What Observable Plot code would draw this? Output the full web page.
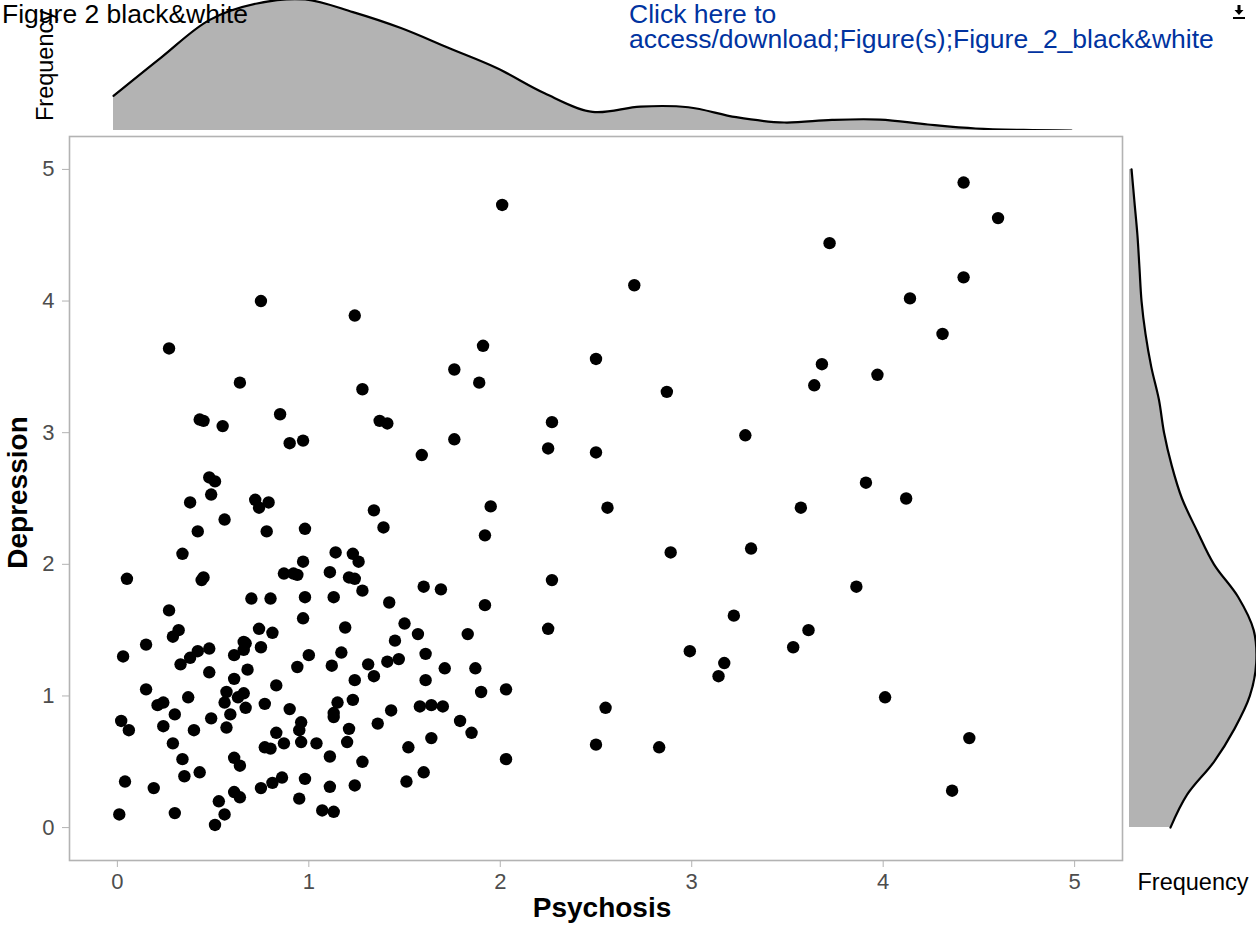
<!DOCTYPE html>
<html><head><meta charset="utf-8">
<script src="https://cdn.jsdelivr.net/npm/d3@7"></script>
<script src="https://cdn.jsdelivr.net/npm/@observablehq/plot@0.6"></script>
<style>
html,body{margin:0;padding:0;background:#fff;}
#wrap{position:relative;width:1256px;height:932px;overflow:hidden;background:#fff;font-family:"Liberation Sans",Arial,Helvetica,sans-serif;}
.layer{position:absolute;left:0;top:0;}
.title{position:absolute;left:2px;top:0px;font-size:26.5px;line-height:28px;color:#000;white-space:nowrap;}
.link{position:absolute;left:629px;top:2px;font-size:26.5px;line-height:25px;color:#0033a0;white-space:nowrap;}
.icon{position:absolute;left:1232px;top:4px;width:14px;height:16px;}
</style></head><body>
<div id="wrap">
  <div class="layer" id="main"></div>
  <div class="layer" id="top"></div>
  <div class="layer" id="right"></div>
  <div class="title">Figure 2 black&amp;white</div>
  <div class="link">Click here to<br>access/download;Figure(s);Figure_2_black&amp;white</div>
  <svg class="icon" viewBox="0 0 14 16"><path d="M5.5 1h3v5h3l-4.5 5l-4.5-5h3z" fill="#000"/><rect x="1" y="13" width="12" height="2" fill="#000"/></svg>
</div>
<script>
// Psychosis (x) and Depression (y) scores
const psychosis = [
  2.01,0.75,1.24,0.27,1.91,0.64,1.76,1.89,1.28,0.85,
  0.43,0.45,0.55,1.37,1.41,
  2.70,2.50,2.87,2.27,2.25,2.50,3.28,2.56,2.89,3.31,
  2.27,3.22,2.25,2.99,3.17,3.14,2.55,2.50,2.83,
  4.42,4.60,3.72,4.42,4.14,4.31,3.68,3.64,3.97,3.91,
  4.12,3.57,3.86,3.61,3.53,4.01,4.45,4.36,
  0.90,0.97,0.48,0.51,0.49,0.38,0.72,0.74,0.79,0.56,
  0.42,0.78,0.98,0.34,0.97,0.05,0.44,0.45,0.87,0.92,
  0.94,0.70,0.80,0.98,0.97,0.27,0.32,0.29,0.74,0.81,
  0.15,0.42,0.38,0.48,0.66,0.67,0.66,0.75,0.03,0.33,
  0.61,0.48,0.68,0.61,1.00,0.94,0.15,0.37,0.57,0.66,
  0.63,0.56,0.83,0.21,0.24,0.30,0.67,0.77,0.90,0.02,
  0.06,0.24,0.40,0.49,0.57,0.59,0.96,0.95,0.29,0.83,
  0.77,0.80,0.87,0.96,1.04,0.34,0.61,0.64,0.35,0.43,
  0.04,0.19,0.75,0.81,0.86,0.98,0.53,0.61,0.64,0.95,
  0.01,0.30,0.56,0.51,1.07,
  1.76,1.59,1.34,1.39,1.95,1.92,1.14,1.23,1.26,1.11,
  1.21,1.24,1.28,1.13,1.42,1.60,1.69,1.92,1.19,1.50,
  1.57,1.83,1.45,1.17,1.61,1.12,1.31,1.41,1.47,1.34,
  1.24,1.71,1.87,1.61,2.03,1.90,1.15,1.23,1.13,1.13,
  1.43,1.36,1.58,1.64,1.70,1.79,1.85,1.21,1.20,1.52,
  1.64,1.11,1.28,2.03,1.11,1.24,1.51,1.60,1.13
];
const depression = [
  4.73,4.00,3.89,3.64,3.66,3.38,3.48,3.38,3.33,3.14,
  3.10,3.09,3.05,3.09,3.07,
  4.12,3.56,3.31,3.08,2.88,2.85,2.98,2.43,2.09,2.12,
  1.88,1.61,1.51,1.34,1.25,1.15,0.91,0.63,0.61,
  4.90,4.63,4.44,4.18,4.02,3.75,3.52,3.36,3.44,2.62,
  2.50,2.43,1.83,1.50,1.37,0.99,0.68,0.28,
  2.92,2.94,2.66,2.63,2.53,2.47,2.49,2.43,2.47,2.34,
  2.25,2.25,2.27,2.08,2.02,1.89,1.88,1.90,1.93,1.93,
  1.92,1.74,1.74,1.75,1.59,1.65,1.50,1.45,1.51,1.48,
  1.39,1.34,1.29,1.36,1.41,1.40,1.35,1.37,1.30,1.24,
  1.31,1.18,1.20,1.13,1.31,1.22,1.05,0.99,1.03,1.02,
  0.99,0.95,1.08,0.93,0.95,0.86,0.91,0.94,0.90,0.81,
  0.74,0.77,0.74,0.83,0.76,0.86,0.80,0.74,0.64,0.72,
  0.61,0.60,0.64,0.65,0.64,0.52,0.53,0.47,0.39,0.42,
  0.35,0.30,0.30,0.34,0.38,0.37,0.20,0.27,0.23,0.22,
  0.10,0.11,0.10,0.02,0.13,
  2.95,2.83,2.41,2.28,2.44,2.22,2.09,2.08,2.02,1.94,
  1.90,1.89,1.80,1.75,1.71,1.83,1.81,1.69,1.52,1.55,
  1.47,1.47,1.42,1.33,1.32,1.23,1.24,1.26,1.28,1.15,
  1.12,1.21,1.21,1.12,1.05,1.03,0.95,0.97,0.87,0.84,
  0.89,0.79,0.92,0.93,0.92,0.81,0.72,0.75,0.65,0.61,
  0.68,0.54,0.50,0.52,0.31,0.32,0.35,0.42,0.12
];

// Marginal density curves (relative frequency, peak ≈ 1)
const densityGrid = [0,0.25,0.5,0.75,1,1.25,1.5,1.75,2,2.25,2.5,2.75,3,3.25,3.5,3.75,4,4.25,4.5,4.75,5];
const psychosisDensity = [0.26,0.55,0.83,0.955,0.985,0.89,0.77,0.62,0.47,0.28,0.14,0.18,0.175,0.10,0.06,0.08,0.082,0.045,0.015,0.004,0];
const depressionDensity = [0.32,0.45,0.66,0.82,0.94,0.99,0.97,0.85,0.66,0.53,0.41,0.33,0.27,0.23,0.17,0.125,0.094,0.078,0.062,0.039,0.016];

const xTicks = [0, 1, 2, 3, 4, 5];
const yTicks = [0, 1, 2, 3, 4, 5];
const xLabel = "Psychosis";
const yLabel = "Depression";
const marginalLabel = "Frequency";

const points = psychosis.map((x, i) => ({psychosis: x, depression: depression[i]}));
const topDens = densityGrid.map((v, i) => ({value: v, density: psychosisDensity[i]}));
const rightDens = densityGrid.map((v, i) => ({value: v, density: depressionDensity[i]}));

const font = "'Liberation Sans', Arial, Helvetica, sans-serif";
const svgStyle = {background: "none", fontFamily: font};
const fmt = d3.format("d");

const main = Plot.plot({
  width: 1256, height: 932,
  marginTop: 136, marginBottom: 72, marginLeft: 69, marginRight: 134,
  style: svgStyle,
  x: {domain: [-0.25, 5.25]},
  y: {domain: [-0.25, 5.25]},
  marks: [
    Plot.frame({stroke: "#b3b3b3", strokeWidth: 1.6}),
    Plot.axisX(xTicks, {tickSize: 7, tickPadding: 6, fontSize: 22, stroke: "#b3b3b3", fill: "#4d4d4d", label: null, tickFormat: fmt}),
    Plot.axisY(yTicks, {tickSize: 7, tickPadding: 8, fontSize: 22, stroke: "#b3b3b3", fill: "#4d4d4d", label: null, tickFormat: fmt}),
    Plot.dot(points, {x: "psychosis", y: "depression", r: 6.2, fill: "black"}),
    Plot.text([xLabel], {frameAnchor: "bottom", textAnchor: "middle", dx: 6, dy: 56, fontSize: 28, fontWeight: "bold", fill: "black"}),
    Plot.text([yLabel], {frameAnchor: "left", textAnchor: "middle", dx: -51, dy: -6, rotate: -90, fontSize: 28, fontWeight: "bold", fill: "black"})
  ]
});
document.getElementById("main").append(main);

const topPlot = Plot.plot({
  width: 1256, height: 130,
  marginTop: 0, marginBottom: 0, marginLeft: 113, marginRight: 185,
  style: svgStyle,
  x: {domain: [0, 5], axis: null},
  y: {domain: [0, 130 / 133], axis: null},
  marks: [
    Plot.areaY(topDens, {x: "value", y: "density", fill: "#b3b3b3", curve: "catmull-rom"}),
    Plot.lineY(topDens, {x: "value", y: "density", stroke: "black", strokeWidth: 2.2, curve: "catmull-rom"}),
    Plot.text([marginalLabel], {frameAnchor: "left", textAnchor: "middle", dx: -68, rotate: -90, fontSize: 23.5, fill: "black"})
  ]
});
document.getElementById("top").append(topPlot);

const rightPlot = Plot.plot({
  width: 1256, height: 932,
  marginTop: 136, marginBottom: 72, marginLeft: 1129, marginRight: 0,
  style: svgStyle,
  x: {domain: [0, 127 / 128], axis: null},
  y: {domain: [-0.25, 5.25], axis: null},
  marks: [
    Plot.areaX(rightDens, {y: "value", x: "density", fill: "#b3b3b3", curve: "catmull-rom"}),
    Plot.lineX(rightDens, {y: "value", x: "density", stroke: "black", strokeWidth: 2.2, curve: "catmull-rom"}),
    Plot.text([marginalLabel], {frameAnchor: "bottom", textAnchor: "middle", dy: 29, fontSize: 23.5, fill: "black"})
  ]
});
document.getElementById("right").append(rightPlot);
</script>
</body></html>
